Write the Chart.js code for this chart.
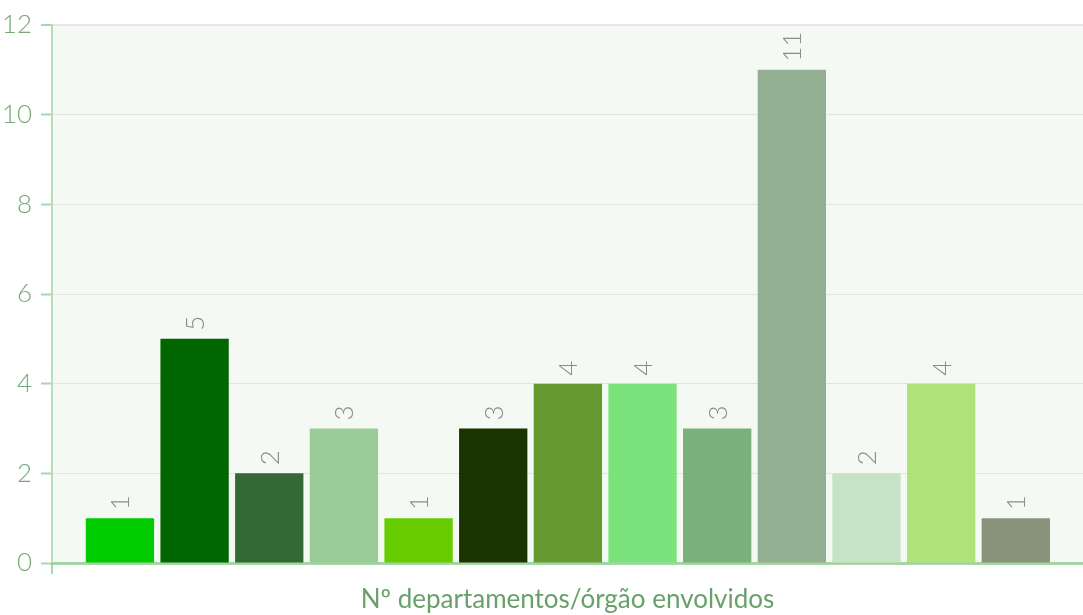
<!DOCTYPE html>
<html>
<head>
<meta charset="utf-8">
<script src="https://cdn.jsdelivr.net/npm/chart.js@4"></script>
<style>
html,body{margin:0;padding:0;background:#ffffff;}
#wrap{width:1083px;height:615px;position:relative;}
</style>
</head>
<body>
<div id="wrap"><canvas id="c" width="1083" height="615"></canvas></div>
<script>
const categories = ["1","2","3","4","5","6","7","8","9","10","11","12","13"];
const values = [1, 5, 2, 3, 1, 3, 4, 4, 3, 11, 2, 4, 1];
const barColors = ["#00cc00","#006600","#346834","#9acc9a","#66cc00","#1a3300","#679933","#7ce27c","#7bb07b","#93af93","#c7e3c7","#aee27a","#88937a"];
const yTicks = [0, 2, 4, 6, 8, 10, 12];
const axisTitle = "Nº departamentos/órgão envolvidos";

const FONT = "Lato";

const bgPlugin = {
  id: 'plotBg',
  beforeDraw(chart) {
    const {ctx, chartArea: a} = chart;
    ctx.save();
    ctx.fillStyle = '#f4f9f3';
    ctx.fillRect(a.left, a.top, a.right - a.left, a.bottom - a.top);
    ctx.restore();
  },
  afterDraw(chart) {
    const {ctx, chartArea: a} = chart;
    ctx.save();
    ctx.strokeStyle = 'rgba(110,190,110,0.6)';
    ctx.lineWidth = 2;
    ctx.beginPath();
    ctx.moveTo(a.left, a.bottom);
    ctx.lineTo(a.left, a.bottom + 11);
    ctx.stroke();
    ctx.restore();
  }
};

const labelPlugin = {
  id: 'barLabels',
  afterDatasetsDraw(chart) {
    const {ctx} = chart;
    const meta = chart.getDatasetMeta(0);
    ctx.save();
    ctx.fillStyle = '#8c8c8c';
    ctx.font = '300 26px ' + FONT;
    ctx.textAlign = 'left';
    ctx.textBaseline = 'alphabetic';
    meta.data.forEach((el, i) => {
      const txt = String(values[i]);
      ctx.save();
      ctx.translate(el.x + 9.4, el.y - 8);
      ctx.rotate(-Math.PI / 2);
      ctx.fillText(txt, 0, 0);
      ctx.restore();
    });
    ctx.restore();
  }
};

new Chart(document.getElementById('c'), {
  type: 'bar',
  data: {
    labels: categories,
    datasets: [{
      data: values.map((v, i) => ({x: i, y: v})),
      backgroundColor: barColors,
      borderWidth: 0,
      categoryPercentage: 1.0,
      barPercentage: 0.915
    }]
  },
  options: {
    responsive: false,
    animation: false,
    layout: {padding: {top: 25, right: 0, left: 0, bottom: 0}},
    plugins: {legend: {display: false}, tooltip: {enabled: false}},
    scales: {
      x: {
        type: 'linear',
        min: -0.91,
        max: 12.9,
        offset: false,
        z: 1,
        afterBuildTicks(scale) { scale.ticks = categories.map((c, i) => ({value: i})); },
        grid: {display: false, offset: false},
        border: {display: true, color: 'rgba(100,185,100,0.55)', width: 3},
        ticks: {display: false},
        title: {
          display: true,
          text: axisTitle,
          color: '#6aa06a',
          font: {family: FONT, size: 26, weight: '400'},
          padding: {top: 0, bottom: 0}
        },
        afterFit(scale) { scale.height = 52; }
      },
      y: {
        min: 0,
        max: 12,
        z: 1,
        afterBuildTicks(scale) { scale.ticks = yTicks.map(v => ({value: v})); },
        grid: {
          color: (ctx) => ctx.tick && ctx.tick.value === 12 ? '#e6e6e6' : 'rgba(0,0,0,0.08)',
          lineWidth: (ctx) => ctx.tick && ctx.tick.value === 12 ? 2 : 1,
          tickColor: '#a8d8a8',
          tickLength: 11,
          tickWidth: 2
        },
        border: {display: true, color: '#b8deb8', width: 2},
        ticks: {
          color: '#76a876',
          font: {family: FONT, size: 26, weight: '300'},
          padding: 9
        },
        afterFit(scale) { scale.width = 52; }
      }
    }
  },
  plugins: [bgPlugin, labelPlugin]
});
</script>
</body>
</html>
